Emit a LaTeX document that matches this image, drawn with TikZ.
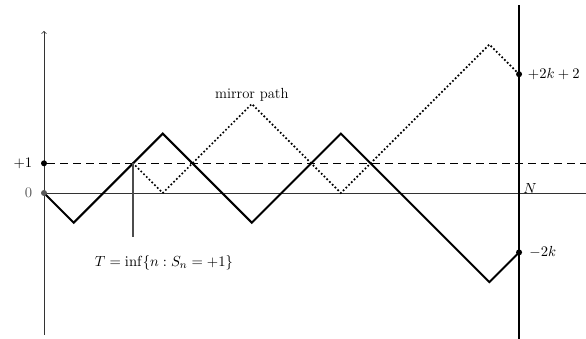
\documentclass[tikz,border=0pt]{standalone}
\usetikzlibrary{calc}
\begin{document}
\begin{tikzpicture}[x=22.27pt,y=22.27pt,
  axis/.style={draw=black!80,line width=0.6pt},
  walk/.style={line width=1.5pt,line join=miter},
  mirror/.style={line width=1.8pt,dash pattern=on 0pt off 2.9pt,line cap=round},
  level/.style={line width=0.75pt,dash pattern=on 6pt off 3.75pt},
  pt/.style={circle,fill=black,inner sep=0pt,minimum size=4.5pt},
  gpt/.style={circle,fill=black!65,inner sep=0pt,minimum size=4.5pt},
  lbl/.style={font=\fontsize{11}{13}\selectfont,inner sep=2pt}]
\useasboundingbox (-1.482,-4.917) rectangle (18.255,6.5);
% axes
\coordinate (ybot) at (0,-4.78);
\coordinate (ytop) at (0,5.46);
\coordinate (xend) at (18.3,0);
\draw[axis,->] (ybot) -- (ytop);
\draw[axis] (0,0) -- (xend);
% level +1
\coordinate (lend) at (18.3,1);
\node[pt] (p1) at (0,1) {};
\draw[level] (p1) -- (lend);
% final time line
\coordinate (Ntop) at (16,6.33);
\coordinate (Nbot) at (16,-4.95);
\draw[line width=1.5pt] (Ntop) -- (Nbot);
% walk
\coordinate (w0) at (0,0);
\coordinate (w1) at (1,-1);
\coordinate (T) at (3,1);
\coordinate (w4) at (4,2);
\coordinate (w7) at (7,-1);
\coordinate (w10) at (10,2);
\coordinate (w15) at (15,-3);
\coordinate (w16) at (16,-2);
\draw[walk] (w0) -- (w1) -- (T) -- (w4) -- (w7) -- (w10) -- (w15) -- (w16);
% mirror path
\coordinate (m4) at (4,0);
\coordinate (m7) at (7,3);
\coordinate (m10) at (10,0);
\coordinate (m15) at (15,5);
\coordinate (m16) at (16,4);
\draw[mirror] (T) -- (m4) -- (m7) -- (m10) -- (m15) -- (m16);
\node[lbl,anchor=south] (mlab) at ($(m7)+(0,-0.02)$) {mirror path};
% T marker
\node[lbl] (Tlab) at (4.04,-2.36) {$T=\inf\{n:S_n=+1\}$};
\coordinate (Tbot) at (3,-1.48);
\draw[line width=1pt,black!70] (T) -- (Tbot);
% points and labels
\node[gpt] (p0) at (0,0) {};
\node[lbl,black!65,anchor=east] (zero) at (-0.3,0) {$0$};
\node[lbl,anchor=east] (one) at (-0.3,1) {$+1$};
\node[pt] (e1) at (m16) {};
\node[pt] (e2) at (w16) {};
\node[lbl,anchor=west] (e1l) at ($(e1)+(0.2,0)$) {$+2k+2$};
\node[lbl,anchor=west] (e2l) at ($(e2)+(0.25,0)$) {$-2k$};
\node[lbl,anchor=south west] (Nl) at (16.05,-0.1) {$N$};
\end{tikzpicture}
\end{document}
